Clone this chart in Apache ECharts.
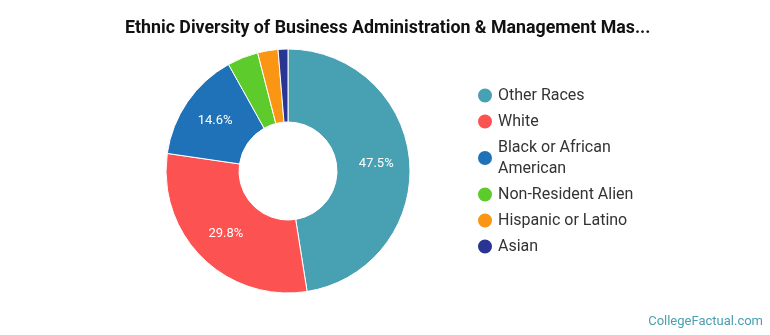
<!DOCTYPE html>
<html><head><meta charset="utf-8">
<script src="https://cdn.jsdelivr.net/npm/echarts@6/dist/echarts.min.js"></script>
<style>html,body{margin:0;padding:0;background:#fff}#c{width:770px;height:335px}</style>
</head><body><div id="c"></div>
<script>
const categories = ["Other Races", "White", "Black or African\nAmerican", "Non-Resident Alien", "Hispanic or Latino", "Asian"];
const values = [47.5, 29.8, 14.6, 4.1, 2.7, 1.3];
const colors = ["#48a0b3", "#fd5252", "#1f72b8", "#5ccb2b", "#fb9514", "#283592"];
const titleText = "Ethnic Diversity of Business Administration & Management Mas...";

const chart = echarts.init(document.getElementById('c'), null, {renderer: 'canvas'});
chart.setOption({
  animation: false,
  title: {
    text: titleText, left: 120, top: 15,
    textStyle: {fontFamily: 'Roboto', fontWeight: 'bold', fontSize: 17.8, color: '#111'}
  },
  graphic: [{
    type: 'text', right: 7, top: 315,
    style: {text: 'CollegeFactual.com', fontFamily: 'Roboto', fontSize: 13, fill: '#4a9fb1'}
  }],
  legend: {
    orient: 'vertical', left: 471, top: 80,
    icon: 'circle', itemWidth: 16, itemHeight: 16, itemGap: 5,
    textStyle: {fontFamily: 'Roboto', fontSize: 16, color: '#333', lineHeight: 21},
    data: categories
  },
  series: [{
    type: 'pie',
    center: [288, 171], radius: [49, 122],
    startAngle: 90, clockwise: true,
    itemStyle: {borderColor: '#fff', borderWidth: 1},
    label: {
      show: true, position: 'inside', color: '#fff',
      fontFamily: 'Roboto', fontSize: 13,
      formatter: p => p.value >= 10 ? p.value.toFixed(1) + '%' : ''
    },
    labelLine: {show: false},
    data: categories.map((c, i) => ({name: c, value: values[i], itemStyle: {color: colors[i]}}))
  }]
});
</script></body></html>
